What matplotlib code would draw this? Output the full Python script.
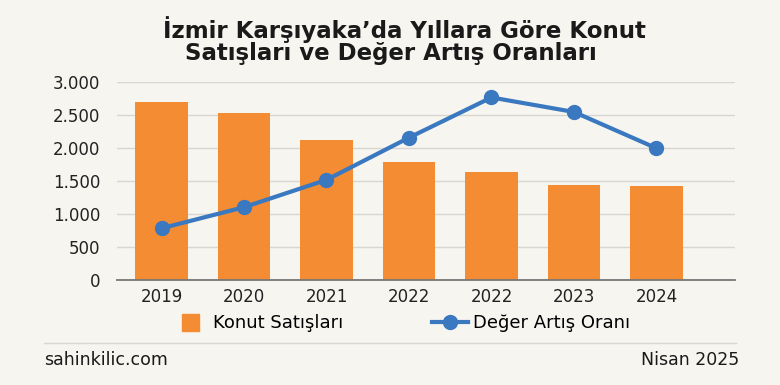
import matplotlib
matplotlib.use("Agg")
import matplotlib.pyplot as plt
from matplotlib.lines import Line2D
from matplotlib.patches import Patch, Rectangle
from matplotlib.legend_handler import HandlerPatch

years = ["2019", "2020", "2021", "2022", "2022", "2023", "2024"]
sales = [2700, 2530, 2120, 1790, 1640, 1440, 1420]
value_increase = [785, 1105, 1520, 2160, 2770, 2550, 2000]
yticks = [0, 500, 1000, 1500, 2000, 2500, 3000]
ytick_labels = ["0", "500", "1.000", "1.500", "2.000", "2.500", "3.000"]

bg = "#f7f5f0"
orange = "#f48c33"
blue = "#3a78c0"
font = "DejaVu Sans"

fig = plt.figure(figsize=(7.8, 3.85), dpi=100, facecolor=bg)
ax = fig.add_axes([0.15, 0.2727, 0.792, 0.5135], facecolor=bg)

x = list(range(len(years)))
ax.bar(x, sales, width=0.64, color=orange, zorder=2)
ax.plot(x, value_increase, color=blue, lw=3, marker="o", ms=10, zorder=3)

ax.set_ylim(0, 3000)
ax.set_xlim(-0.54, 6.95)
ax.set_yticks(yticks)
ax.set_yticklabels(ytick_labels)
ax.set_xticks(x)
ax.set_xticklabels(years)
ax.grid(axis="y", color="#d8d6d0", lw=1, zorder=0)
for s in ["left", "right", "top"]:
    ax.spines[s].set_visible(False)
ax.spines["bottom"].set_color("#777777")
ax.spines["bottom"].set_linewidth(1.3)
ax.tick_params(axis="both", length=0, labelsize=12, colors="#222222")
ax.tick_params(axis="y", pad=12)
ax.tick_params(axis="x", pad=6)
for lab in ax.get_xticklabels() + ax.get_yticklabels():
    lab.set_fontfamily(font)

fig.text(0.519, 0.922, "İzmir Karşıyaka’da Yıllara Göre Konut", ha="center", va="center",
         fontsize=16.5, fontweight="bold", family=font, color="#1a1a1a")
fig.text(0.501, 0.862, "Satışları ve Değer Artış Oranları", ha="center", va="center",
         fontsize=16.5, fontweight="bold", family=font, color="#1a1a1a")


def square_patch(legend, orig_handle, xdescent, ydescent, width, height, fontsize):
    s = height * 1.35
    return Rectangle((width - s - 6, -ydescent + (height - s) / 2), s, s)


handles = [Patch(facecolor=orange, edgecolor=orange),
           Line2D([0], [0], color=blue, lw=3, marker="o", ms=10)]
leg = fig.legend(handles, ["Konut Satışları", "Değer Artış Oranı"], loc="center",
                 bbox_to_anchor=(0.514, 0.16), ncol=2, frameon=False,
                 prop={"family": font, "size": 13}, columnspacing=4.9,
                 handlelength=2.0, handletextpad=0.3,
                 handler_map={Patch: HandlerPatch(patch_func=square_patch)})

fig.add_artist(Line2D([0.057, 0.944], [0.109, 0.109], color="#d8d6d0", lw=1))
fig.text(0.057, 0.065, "sahinkilic.com", ha="left", va="center", fontsize=12.5,
         family=font, color="#1a1a1a")
fig.text(0.948, 0.065, "Nisan 2025", ha="right", va="center", fontsize=12.5,
         family=font, color="#1a1a1a")

fig.savefig("out.png", dpi=100, facecolor=bg)
